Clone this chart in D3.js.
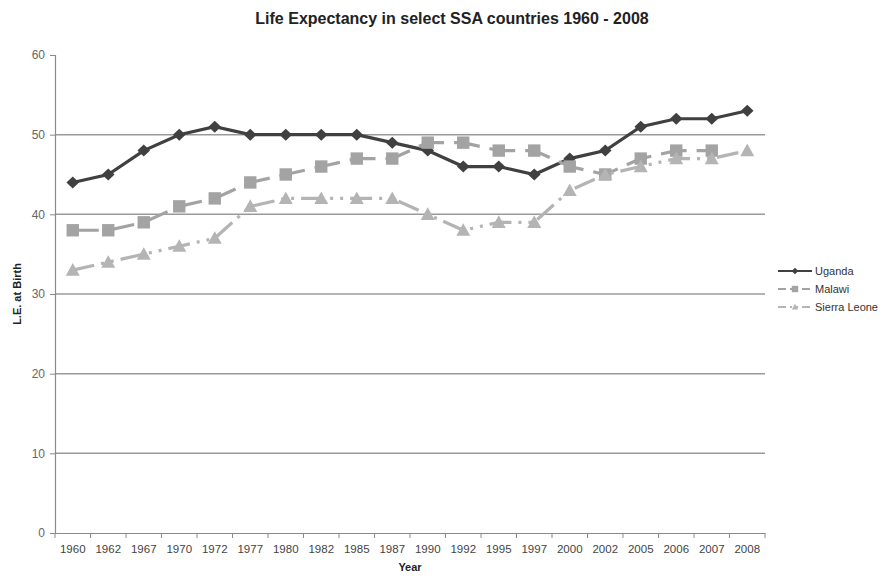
<!DOCTYPE html>
<html>
<head>
<meta charset="utf-8">
<script src="https://cdn.jsdelivr.net/npm/d3@7"></script>
<style>
  html, body { margin: 0; padding: 0; background: #fff; }
  svg { display: block; font-family: Arial, "Liberation Sans", sans-serif; }
</style>
</head>
<body>
<svg id="chart" width="886" height="576"></svg>
<script>
// Survey years (category axis)
const years = ["1960","1962","1967","1970","1972","1977","1980","1982","1985","1987",
               "1990","1992","1995","1997","2000","2002","2005","2006","2007","2008"];

// Life expectancy at birth, by country
const uganda      = [44,45,48,50,51,50,50,50,50,49,48,46,46,45,47,48,51,52,52,53];
const malawi      = [38,38,39,41,42,44,45,46,47,47,49,49,48,48,46,45,47,48,48,null];
const sierraLeone = [33,34,35,36,37,41,42,42,42,42,40,38,39,39,43,45,46,47,47,48];

const yTicks = [0,10,20,30,40,50,60];

const series = [
  { name: "Uganda",       values: uganda,      color: "#404040", dash: null,           legendDash: null,           marker: "diamond",  size: 6 },
  { name: "Malawi",       values: malawi,      color: "#a3a3a3", dash: "26,10",        legendDash: "8,4",          marker: "square",   size: 6.2 },
  { name: "Sierra Leone", values: sierraLeone, color: "#b4b4b4", dash: "22,7,3,7,3,7", legendDash: "8,4,2,4,2,4",  marker: "triangle", size: 7 }
];

const svg = d3.select("#chart");
const m = { left: 55, right: 121, top: 55, bottom: 43 };
const W = 886, H = 576;

const x = d3.scaleBand().domain(years).range([m.left, W - m.right]);
const y = d3.scaleLinear().domain([0, 60]).range([H - m.bottom, m.top]);

// Horizontal gridlines
svg.append("g")
  .selectAll("line")
  .data(yTicks.filter(t => t > 0 && t < 60))
  .join("line")
  .attr("x1", m.left).attr("x2", W - m.right)
  .attr("y1", d => y(d)).attr("y2", d => y(d))
  .attr("stroke", "#9a9a9a").attr("stroke-width", 1.5);

// Y axis
const yAxis = svg.append("g")
  .attr("transform", `translate(${m.left},0)`)
  .call(d3.axisLeft(y).tickValues(yTicks).tickSize(5).tickPadding(5));
yAxis.select(".domain").attr("stroke", "#8a8a8a").attr("stroke-width", 1.2);
yAxis.selectAll(".tick line").attr("stroke", "#8a8a8a");
yAxis.selectAll(".tick text").attr("fill", "#666").attr("font-size", 12);

// X axis with ticks at category boundaries
const xAxis = svg.append("g")
  .attr("transform", `translate(0,${y(0)})`)
  .call(d3.axisBottom(x).tickSize(0).tickPadding(12));
xAxis.select(".domain").attr("stroke", "#8a8a8a").attr("stroke-width", 1.2);
xAxis.selectAll(".tick text").attr("fill", "#444").attr("font-size", 11.5);
xAxis.selectAll(".boundary")
  .data(years.map(d => x(d) + x.bandwidth()).concat([x(years[0])]))
  .join("line")
  .attr("x1", d => d).attr("x2", d => d)
  .attr("y1", 0).attr("y2", 5)
  .attr("stroke", "#8a8a8a");

// Marker shapes, r = half extent
function markerPath(type, r) {
  if (type === "diamond") return `M0,${-r}L${r * 1.05},0L0,${r}L${-r * 1.05},0Z`;
  if (type === "square") return `M${-r},${-r}H${r}V${r}H${-r}Z`;
  return `M0,${-r}L${r},${r * 0.8}H${-r}Z`;
}

// Series lines and markers
const line = d3.line()
  .defined(d => d.v != null)
  .x(d => x(d.year) + x.bandwidth() / 2)
  .y(d => y(d.v));

series.forEach(s => {
  const pts = years.map((yr, i) => ({ year: yr, v: s.values[i] }));
  svg.append("path")
    .datum(pts)
    .attr("fill", "none")
    .attr("stroke", s.color)
    .attr("stroke-width", 3.2)
    .attr("stroke-dasharray", s.dash)
    .attr("d", line);
  svg.append("g")
    .selectAll("path")
    .data(pts.filter(p => p.v != null))
    .join("path")
    .attr("transform", p => `translate(${x(p.year) + x.bandwidth() / 2},${y(p.v)})`)
    .attr("d", markerPath(s.marker, s.size))
    .attr("fill", s.color);
});

// Legend
const legend = svg.append("g").attr("transform", "translate(778,271)");
series.forEach((s, i) => {
  const g = legend.append("g").attr("transform", `translate(0,${i * 18})`);
  g.append("line")
    .attr("x1", 0).attr("x2", 34).attr("y1", 0).attr("y2", 0)
    .attr("stroke", s.color).attr("stroke-width", 2)
    .attr("stroke-dasharray", s.legendDash);
  g.append("path")
    .attr("transform", "translate(17,0)")
    .attr("d", markerPath(s.marker, 3.2))
    .attr("fill", s.color);
  g.append("text")
    .attr("x", 37).attr("y", 4)
    .attr("font-size", 11).attr("fill", "#333")
    .text(s.name);
});

// Titles
svg.append("text")
  .attr("x", 452).attr("y", 24)
  .attr("text-anchor", "middle")
  .attr("font-size", 16).attr("font-weight", "bold").attr("fill", "#222")
  .text("Life Expectancy in select SSA countries 1960 - 2008");

svg.append("text")
  .attr("x", (m.left + W - m.right) / 2).attr("y", 571)
  .attr("text-anchor", "middle")
  .attr("font-size", 11).attr("font-weight", "bold").attr("fill", "#222")
  .text("Year");

svg.append("text")
  .attr("transform", `translate(21,${(y(0) + y(60)) / 2}) rotate(-90)`)
  .attr("text-anchor", "middle")
  .attr("font-size", 11).attr("font-weight", "bold").attr("fill", "#222")
  .text("L.E. at Birth");
</script>
</body>
</html>
